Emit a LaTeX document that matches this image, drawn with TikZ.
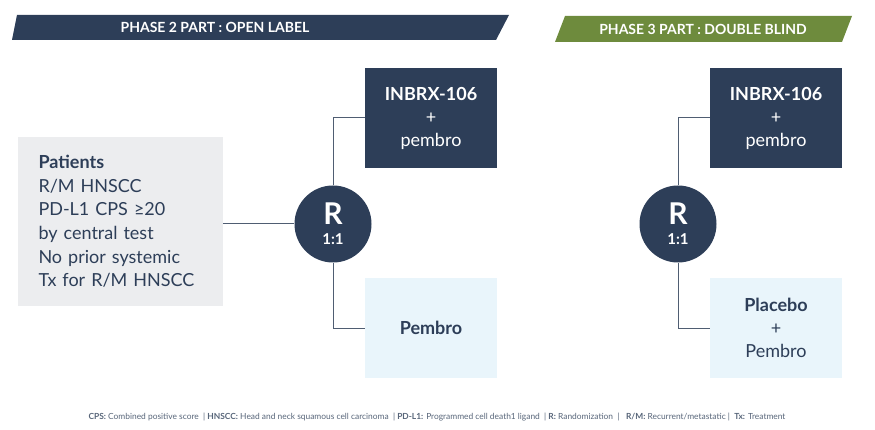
\documentclass[tikz,border=0pt]{standalone}
\usepackage{fontspec}
\setmainfont{Lato}
\usetikzlibrary{arrows,shapes}
\definecolor{navy}{HTML}{2D3E58}
\definecolor{olive}{HTML}{6E8B3D}
\definecolor{paleblue}{HTML}{E9F5FB}
\definecolor{palegray}{HTML}{ECEDEF}
\definecolor{wire}{HTML}{4F5D72}
\tikzstyle{armd}=[rectangle,fill=navy,text=white,minimum width=132pt,minimum height=100pt,align=center,font=\fontsize{18}{23}\selectfont]
\tikzstyle{arml}=[rectangle,fill=paleblue,text=navy,minimum width=132pt,minimum height=100pt,align=center,font=\fontsize{18}{23}\selectfont]
\tikzstyle{rand}=[circle,fill=navy,text=white,minimum size=77pt,inner sep=0pt,align=center,font=\bfseries\fontsize{15}{20}\selectfont]
\tikzstyle{phase}=[text=white,font=\bfseries\fontsize{14}{16}\selectfont]
\tikzstyle{link}=[draw=wire,line width=1pt]

\begin{document}
\begin{tikzpicture}[x=1pt,y=-1pt]
\useasboundingbox (0,0) rectangle (875,430);
% banners
\fill[navy] (12,40) -- (17,15) -- (509,15) -- (496,40) -- cycle;
\node[phase] (ph2) at (215,27.5) {PHASE 2 PART : OPEN LABEL};
\fill[olive] (555,42) -- (565,16) -- (852,16) -- (842,42) -- cycle;
\node[phase] (ph3) at (703,29) {PHASE 3 PART : DOUBLE BLIND};
% phase 2
\node[rectangle,fill=palegray,text=navy,minimum width=205pt,minimum height=169pt,inner xsep=20.5pt,text width=164pt,align=left,font=\fontsize{18}{23.6}\selectfont] (pat) at (120.5,221.5) {\textbf{Patients}\\R/M HNSCC\\PD-L1 CPS ≥20\\by central test\\No prior systemic\\Tx for R/M HNSCC};
\node[rand] (R2) at (333,224) {{\fontsize{30}{30}\selectfont R}\\1:1};
\node[armd] (A2) at (431,118) {\textbf{INBRX-106}\\+\\pembro};
\node[arml] (B2) at (431,328) {\textbf{Pembro}};
\draw[link] (pat.east |- R2.west) -- (R2.west);
\draw[link] (R2.north) |- (A2.west);
\draw[link] (R2.south) |- (B2.west);
% phase 3
\node[rand] (R3) at (678,224) {{\fontsize{30}{30}\selectfont R}\\1:1};
\node[armd] (A3) at (776,118) {\textbf{INBRX-106}\\+\\pembro};
\node[arml] (B3) at (776,328) {\textbf{Placebo}\\+\\Pembro};
\draw[link] (R3.north) |- (A3.west);
\draw[link] (R3.south) |- (B3.west);
% footnote
\node[text=navy!80,font=\fontsize{8.4}{10}\selectfont] (foot) at (437,417) {\textbf{CPS:} Combined positive score \ | \textbf{HNSCC:} Head and neck squamous cell carcinoma \ | \textbf{PD-L1:} Programmed cell death1 ligand \ | \textbf{R:} Randomization \ | \ \ \textbf{R/M:} Recurrent/metastatic | \ \textbf{Tx:} Treatment};
\end{tikzpicture}
\end{document}
